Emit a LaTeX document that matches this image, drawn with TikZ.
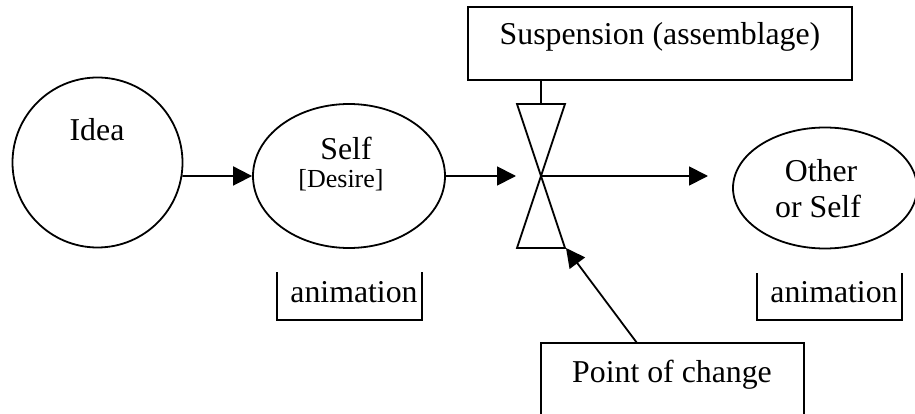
\documentclass[tikz,border=0pt]{standalone}
\usepackage{fontspec}
\setmainfont{Liberation Serif}
\usetikzlibrary{arrows.meta,shapes.geometric}

\tikzset{
  every picture/.style={x=1pt,y=-1pt},
  ln/.style={line width=1.8pt, line join=miter},
  arr/.style={ln, -{Triangle[length=19pt,width=19pt]}},
  txt/.style={inner sep=0pt, font=\fontsize{31.8}{36}\selectfont, anchor=base},
  smalltxt/.style={inner sep=0pt, font=\fontsize{26}{30}\selectfont, anchor=base},
  outline/.style={ln, draw, inner sep=0pt}
}

\begin{document}
\begin{tikzpicture}
\useasboundingbox (0,0) rectangle (915,414);
\clip (0,0) rectangle (915,414);

% circle and ellipses
\node[outline, circle, minimum size=170pt] (idea) at (97.5,162.5) {};
\node[outline, ellipse, minimum width=192pt, minimum height=144pt] (self) at (349,176) {};
\node[outline, ellipse, minimum width=184pt, minimum height=121pt] (other) at (825,188) {};

% labels
\node[txt] (ideatxt) at (97,141) {Idea};
\node[txt] (selftxt) at (346,160) {Self};
\node[smalltxt] (desire) at (341,188) {[Desire]};
\node[txt] (othertxt) at (821,182) {Other};
\node[txt] (orself) at (818,217) {or Self};

% suspension box
\draw[ln] (468,7) rectangle (852,80);
\node[txt] (susp) at (660,45) {Suspension (assemblage)};
\coordinate (suspbot) at (541,80);

% hourglass
\coordinate (hg) at (541,176);
\coordinate (hgtop) at (541,104);
\coordinate (hgin) at (516,176);
\coordinate (hgbr) at (566,248);
\draw[ln] (517,104) -- (565,104) -- (517,248) -- (565,248) -- cycle;
\draw[ln] (suspbot) -- (hgtop);

% open brackets under the ellipses
\draw[ln] (277,272) -- (277,320) -- (422,320) -- (422,272);
\node[txt] (anim1) at (354,302) {animation};
\draw[ln] (757,273) -- (757,320) -- (902,320) -- (902,273);
\node[txt] (anim2) at (834,302) {animation};

% point of change box
\draw[ln] (541,430) -- (541,343) -- (804,343) -- (804,430);
\node[txt] (poc) at (672,382) {Point of change};
\coordinate (pocstart) at (637,343);

% connectors
\coordinate (otherin) at (708,176);
\draw[arr] (idea.-9.5) -- (self.west);
\draw[arr] (self.east) -- (hgin);
\draw[arr] (hg) -- (otherin);
\draw[arr] (pocstart) -- (hgbr);
\end{tikzpicture}
\end{document}
